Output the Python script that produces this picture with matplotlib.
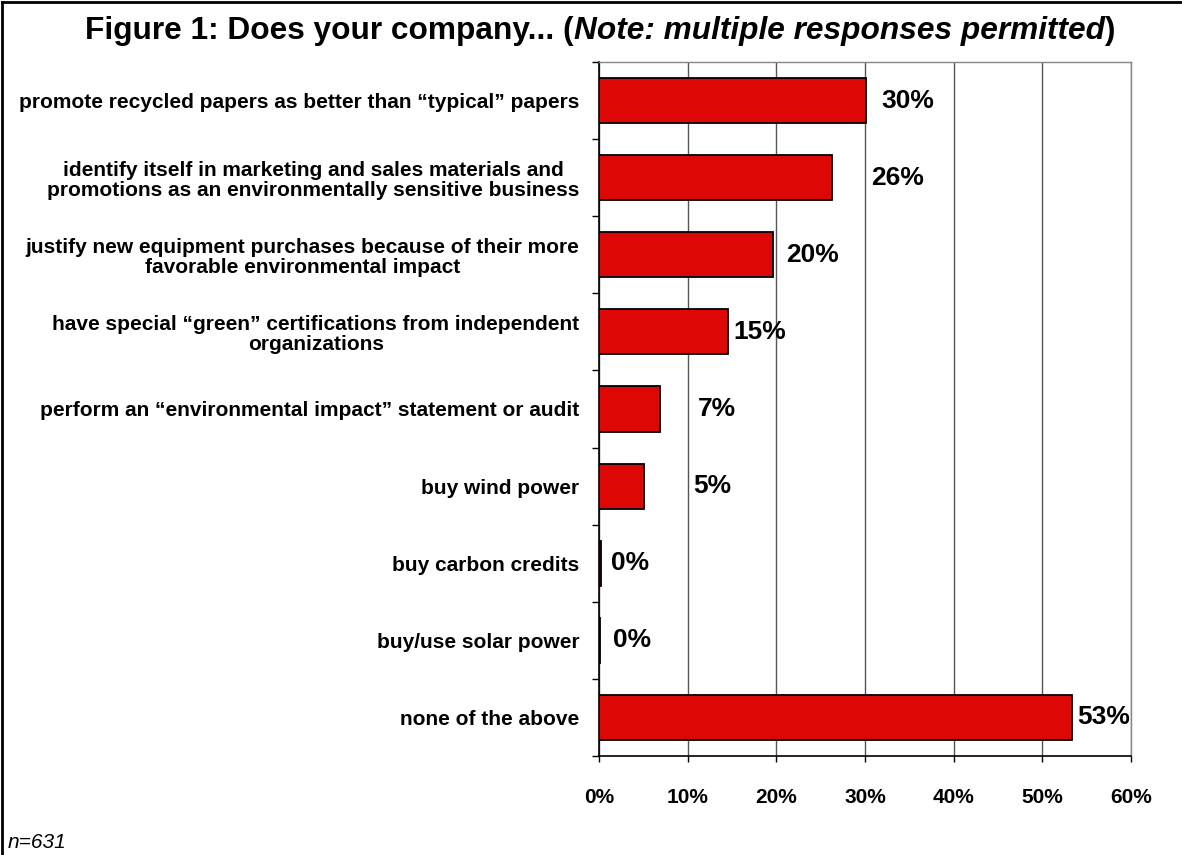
import matplotlib
matplotlib.use("Agg")
import matplotlib.pyplot as plt
from matplotlib.lines import Line2D

plt.rcParams["font.family"] = ["Liberation Sans", "DejaVu Sans"]

CATEGORIES = [
    "promote recycled papers as better than \u201ctypical\u201d papers",
    "identify itself in marketing and sales materials and\npromotions as an environmentally sensitive business",
    "justify new equipment purchases because of their more\nfavorable environmental impact",
    "have special \u201cgreen\u201d certifications from independent\norganizations",
    "perform an \u201cenvironmental impact\u201d statement or audit",
    "buy wind power",
    "buy carbon credits",
    "buy/use solar power",
    "none of the above",
]
SHARES = [30.1, 26.3, 19.6, 14.6, 6.9, 5.1, 0.2, 0.1, 53.3]
X_TICKS = [0, 10, 20, 30, 40, 50, 60]

# hand-placed label offsets (in % units) to the right of each bar end
LABEL_PAD = [1.7, 4.4, 1.5, 0.6, 4.3, 5.5, 1.2, 1.5, 0.6]

BAR_RED = "#DD0806"
GRID = "#555555"

fig = plt.figure(figsize=(11.82, 8.55), dpi=100)
ax = fig.add_axes([599 / 1182, 1 - 756 / 855, 532 / 1182, 694 / 855])

ypos = list(range(len(CATEGORIES)))
ax.barh(ypos, SHARES, height=0.585, color=BAR_RED, edgecolor="black",
        linewidth=1.3, zorder=3)

for i, v in enumerate(SHARES):
    ax.text(v + LABEL_PAD[i], i, f"{v:.0f}%", ha="left", va="center",
            fontsize=19, fontweight="bold", zorder=4)

ax.set_xlim(0, 60)
ax.set_ylim(len(CATEGORIES) - 0.5, -0.5)
ax.set_xticks(X_TICKS)
ax.set_xticklabels([f"{t}%" for t in X_TICKS], fontsize=15, fontweight="bold")
ax.tick_params(axis="x", direction="out", length=4, width=1, pad=19)

ax.set_yticks(ypos)
ax.set_yticklabels(CATEGORIES, fontsize=15, fontweight="bold",
                   multialignment="center", linespacing=1.08)
ax.set_yticks([i - 0.5 for i in range(len(CATEGORIES) + 1)], minor=True)
ax.tick_params(axis="y", which="major", length=0, pad=14)
ax.tick_params(axis="y", which="minor", direction="out", length=5, width=1)

ax.grid(axis="x", color=GRID, linewidth=1, zorder=0)
for side in ("top", "right"):
    ax.spines[side].set_color("#888888")
    ax.spines[side].set_linewidth(1)
for side in ("left", "bottom"):
    ax.spines[side].set_color("black")
    ax.spines[side].set_linewidth(1.2)

# title: bold with an italic note in the middle, chained piece by piece
TITLE_SIZE = 22.8
t1 = fig.text(0, 1 - 31 / 855, "Figure 1: Does your company... (", fontsize=TITLE_SIZE,
              fontweight="bold", ha="left", va="center")
t2 = fig.text(0, 0, "Note: multiple responses permitted", fontsize=TITLE_SIZE,
              fontweight="bold", style="italic", ha="left", va="bottom")
t3 = fig.text(0, 0, ")", fontsize=TITLE_SIZE, fontweight="bold", ha="left", va="bottom")
renderer = fig.canvas.get_renderer()
w = sum(t.get_window_extent(renderer).width for t in (t1, t2, t3))
x0 = 600 / 1182 - w / 2 / fig.bbox.width
t1.set_x(x0)
b1 = t1.get_window_extent(renderer)
t2.set_position((b1.x1 / fig.bbox.width, b1.y0 / fig.bbox.height))
b2 = t2.get_window_extent(renderer)
t3.set_position((b2.x1 / fig.bbox.width, b2.y0 / fig.bbox.height))

fig.text(8 / 1182, 1 - 842 / 855, "n=631", fontsize=15, style="italic",
         ha="left", va="center")

# outer frame: top and left edges
fig.add_artist(Line2D([2 / 1182, 2 / 1182], [0, 1 - 2 / 855], color="black",
                      linewidth=2, transform=fig.transFigure))
fig.add_artist(Line2D([2 / 1182, 1], [1 - 2 / 855, 1 - 2 / 855], color="black",
                      linewidth=2, transform=fig.transFigure))

fig.savefig("out.png", dpi=100, facecolor="white")
